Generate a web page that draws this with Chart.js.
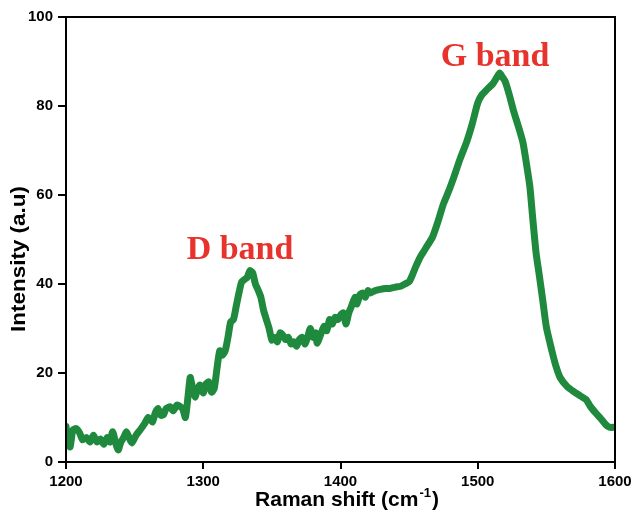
<!DOCTYPE html>
<html>
<head>
<meta charset="utf-8">
<script src="https://cdn.jsdelivr.net/npm/chart.js@4/dist/chart.umd.min.js"></script>
<style>
  html, body { margin: 0; padding: 0; background: #fff; }
  #wrap { width: 633px; height: 511px; }
</style>
</head>
<body>
<div id="wrap"><canvas id="myChart" width="633" height="511"></canvas></div>
<script>
// raman spectrum
const ramanShift = [
  1200, 1201.5, 1203, 1205, 1207.5, 1210, 1212, 1215, 1217.5, 1220,
  1222.5, 1225, 1227.5, 1230, 1232, 1234, 1236, 1238, 1240, 1242,
  1244, 1246, 1248, 1251, 1254, 1257, 1260, 1263, 1265, 1267,
  1269, 1271, 1273, 1276, 1278, 1281, 1283, 1285, 1287, 1289,
  1290.5, 1292, 1294, 1296, 1297.6, 1300, 1302, 1304, 1306, 1308,
  1310, 1312, 1314, 1316, 1318, 1320, 1322, 1324, 1326, 1328,
  1330, 1332, 1334, 1336, 1338, 1340, 1342, 1344, 1346, 1348,
  1350, 1352, 1354, 1356, 1358, 1360, 1362, 1364, 1366, 1368,
  1370, 1372, 1374, 1376, 1378, 1380, 1382, 1383, 1386, 1388,
  1390, 1392, 1394, 1396, 1398, 1400, 1402, 1404, 1406, 1408,
  1410.6, 1412, 1414, 1416, 1418, 1420, 1422, 1425, 1429, 1433,
  1436, 1440, 1444, 1447, 1450, 1453, 1455, 1458, 1460, 1463,
  1467, 1471, 1475, 1479, 1482, 1487, 1492, 1496, 1500, 1503,
  1507, 1511, 1514, 1516, 1518, 1520, 1523, 1526, 1530, 1533,
  1536, 1538, 1540, 1542.5, 1545, 1547.5, 1550, 1554, 1557, 1560,
  1565, 1570, 1575, 1579, 1582, 1586, 1589, 1593, 1596, 1600
];
const intensity = [
  8, 4, 3.4, 7.2, 7.5, 6.5, 5, 5.5, 4.5, 6,
  4.5, 5.2, 4, 5.5, 4.5, 6.8, 4.5, 2.7, 4.5, 5.5,
  6.8, 5.5, 4.3, 6, 7.2, 8.5, 10, 9, 11, 12,
  10.5, 10.6, 12, 12.4, 11.5, 12.8, 12.5, 12, 10, 15,
  19, 17, 14.6, 16.5, 17.3, 15.5, 17.5, 18, 15.7, 16.5,
  21, 25, 24, 25, 28, 31.5, 32, 35, 38, 40.5,
  41, 41.5, 43, 42.5, 40, 38.6, 37, 34, 32, 30,
  27.4, 28, 27, 29, 28.5, 27.5, 28, 26.5, 27, 26,
  27.5, 28, 26.5, 28, 30, 28, 29, 26.7, 29, 30.5,
  29.5, 32, 31, 32.5, 32, 33, 33.5, 31, 33.5, 35,
  37, 35.5, 37.5, 38, 37, 38.5, 38, 38.5, 38.8, 39,
  39, 39.3, 39.5, 40, 40.5, 42.5, 44, 46, 47, 48.5,
  50.5, 54, 58, 61, 63.5, 68, 72, 76, 80.7, 82.5,
  83.8, 85, 86.5, 87.4, 86.5, 85.5, 82.5, 79, 75, 71.7,
  66, 61.8, 55, 47, 41.6, 36, 30.3, 25, 21.5, 19,
  17, 15.8, 14.8, 14, 12.5, 11, 10, 8.5, 7.8, 7.8
];
const xTicks = [1200, 1300, 1400, 1500, 1600];
const yTicks = [0, 20, 40, 60, 80, 100];
const bandLabels = ['D band', 'G band'];
const bandPos = [[1326.8, 45.6], [1512.6, 89]];

const points = ramanShift.map((x, i) => ({ x: x, y: intensity[i] }));

const tickFont = { family: '"Liberation Sans", Arial, sans-serif', size: 15, weight: 'bold' };

// box + titles + band labels
const extras = {
  id: 'extras',
  afterDraw(chart) {
    const ctx = chart.ctx;
    const a = chart.chartArea;
    const xs = chart.scales.x, ys = chart.scales.y;
    ctx.save();
    ctx.strokeStyle = '#000';
    ctx.lineWidth = 2;
    ctx.strokeRect(a.left, a.top, a.right - a.left, a.bottom - a.top);

    ctx.fillStyle = '#e8322c';
    ctx.font = 'bold 34px "Liberation Serif", "Times New Roman", serif';
    ctx.textAlign = 'center';
    ctx.textBaseline = 'alphabetic';
    bandLabels.forEach((t, i) => {
      ctx.fillText(t, xs.getPixelForValue(bandPos[i][0]), ys.getPixelForValue(bandPos[i][1]));
    });

    // x title with superscript
    ctx.fillStyle = '#000';
    const f1 = 'bold 21px "Liberation Sans", Arial, sans-serif';
    const f2 = 'bold 13px "Liberation Sans", Arial, sans-serif';
    ctx.font = f1;
    const p1 = 'Raman shift (cm', p3 = ')';
    const w1 = ctx.measureText(p1).width, w3 = ctx.measureText(p3).width;
    ctx.font = f2;
    const w2 = ctx.measureText('-1').width + 2;
    let x0 = 347 - (w1 + w2 + w3) / 2;
    const base = 506;
    ctx.textAlign = 'left';
    ctx.font = f1; ctx.fillText(p1, x0, base); x0 += w1 + 1;
    ctx.font = f2; ctx.fillText('-1', x0, base - 9); x0 += w2 - 1;
    ctx.font = f1; ctx.fillText(p3, x0, base);

    // y title
    ctx.translate(25, 259);
    ctx.rotate(-Math.PI / 2);
    ctx.scale(1.07, 1);
    ctx.textAlign = 'center';
    ctx.font = f1;
    ctx.fillText('Intensity (a.u)', 0, 0);
    ctx.restore();
  }
};

new Chart(document.getElementById('myChart'), {
  type: 'line',
  data: {
    datasets: [{
      data: points,
      borderColor: '#1f8a3d',
      borderWidth: 7,
      pointRadius: 0,
      tension: 0.2,
      borderJoinStyle: 'round',
      borderCapStyle: 'round',
      fill: false
    }]
  },
  options: {
    responsive: false,
    animation: false,
    layout: { padding: { top: 17, right: 18, left: 0, bottom: 0 } },
    plugins: { legend: { display: false }, tooltip: { enabled: false } },
    scales: {
      x: {
        type: 'linear',
        min: 1200, max: 1600,
        afterBuildTicks: s => { s.ticks = xTicks.map(v => ({ value: v })); },
        afterFit: s => { s.height = 49; s.paddingRight = 0; s.paddingLeft = 0; },
        border: { display: true, color: '#000', width: 2 },
        grid: { display: true, drawOnChartArea: false, drawTicks: true, tickLength: 7, color: '#000', lineWidth: 2 },
        ticks: { color: '#000', font: tickFont, padding: 4, maxRotation: 0, callback: v => String(v) }
      },
      y: {
        min: 0, max: 100,
        afterBuildTicks: s => { s.ticks = yTicks.map(v => ({ value: v })); },
        afterFit: s => { s.width = 66; },
        border: { display: true, color: '#000', width: 2 },
        grid: { display: true, drawOnChartArea: false, drawTicks: true, tickLength: 8, color: '#000', lineWidth: 2 },
        ticks: { color: '#000', font: tickFont, padding: 5, callback: v => String(v) }
      }
    }
  },
  plugins: [extras]
});
</script>
</body>
</html>
